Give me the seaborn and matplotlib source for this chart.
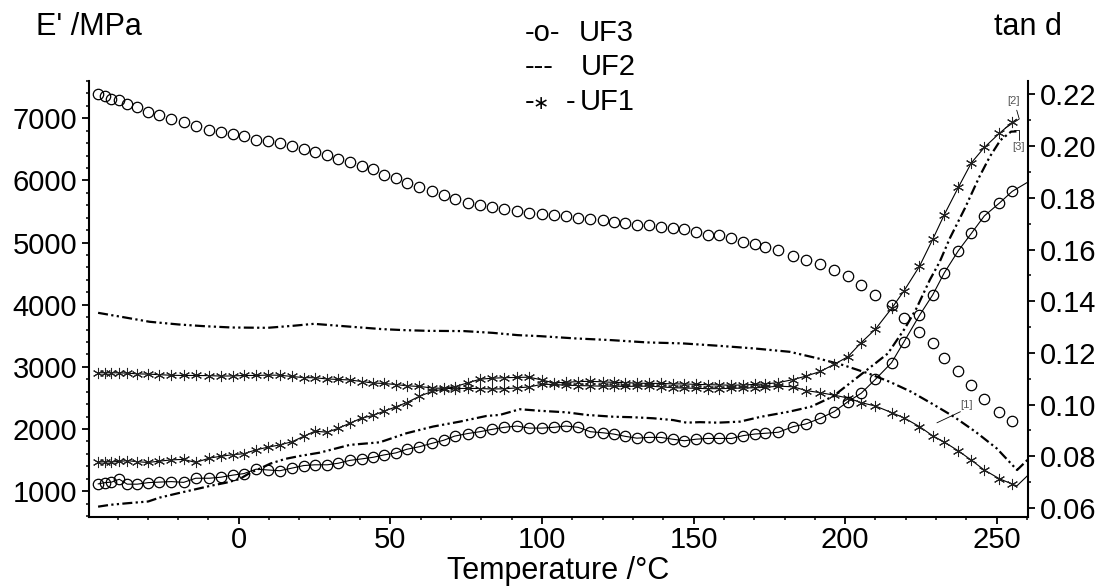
import matplotlib
matplotlib.use("Agg")
import matplotlib.pyplot as plt
from matplotlib.ticker import MultipleLocator, FormatStrFormatter
import seaborn as sns

# temperature steps of the marker series (°C)
temp = [-46.4, -44.1, -42.0, -39.4, -36.8, -33.5, -29.9, -26.2, -22.2, -18.2,
        -14.2, -9.7, -5.9, -2.0, 1.7, 5.7, 9.6, 13.5, 17.5, 21.4,
        25.1, 29.2, 32.8, 36.6, 40.6, 44.3, 47.8, 51.8, 55.4, 59.6,
        63.7, 67.6, 71.2, 75.5, 79.5, 83.5, 87.5, 91.7, 95.8, 100.0,
        103.9, 107.8, 111.9, 116.0, 120.0, 123.6, 127.5, 131.3, 135.2, 139.1,
        143.1, 147.0, 150.8, 154.6, 158.5, 162.5, 166.4, 170.2, 173.7, 178.0,
        182.9, 187.0, 191.8, 196.4, 200.9, 205.3, 210.0, 215.3, 219.4, 224.5,
        228.9, 232.7, 237.3, 241.6, 245.9, 250.9, 255.1]

# UF3 storage modulus E' (MPa)
uf3_E = [7397, 7354, 7317, 7289, 7225, 7182, 7101, 7048, 6995, 6941,
         6871, 6818, 6780, 6754, 6716, 6658, 6641, 6603, 6555, 6502,
         6459, 6405, 6352, 6297, 6233, 6180, 6095, 6040, 5960, 5896,
         5826, 5772, 5697, 5643, 5611, 5573, 5535, 5503, 5482, 5466,
         5441, 5424, 5403, 5387, 5371, 5333, 5317, 5291, 5280, 5253,
         5237, 5211, 5172, 5130, 5119, 5066, 5011, 4974, 4931, 4878,
         4781, 4717, 4648, 4556, 4460, 4310, 4160, 3990, 3780, 3564,
         3378, 3137, 2932, 2707, 2482, 2278, 2133]

# UF3 tan d
uf3_tan = [0.0693, 0.0698, 0.0700, 0.0711, 0.0692, 0.0692, 0.0698, 0.0700, 0.0702, 0.0699,
           0.0715, 0.0715, 0.0719, 0.0727, 0.0733, 0.0750, 0.0747, 0.0744, 0.0754, 0.0764,
           0.0767, 0.0767, 0.0773, 0.0784, 0.0790, 0.0796, 0.0805, 0.0813, 0.0827, 0.0837,
           0.0850, 0.0862, 0.0878, 0.0888, 0.0895, 0.0904, 0.0912, 0.0917, 0.0909, 0.0909,
           0.0912, 0.0917, 0.0912, 0.0895, 0.0891, 0.0886, 0.0877, 0.0870, 0.0873, 0.0873,
           0.0866, 0.0860, 0.0866, 0.0869, 0.0869, 0.0869, 0.0880, 0.0886, 0.0889, 0.0893,
           0.0915, 0.0925, 0.0947, 0.0973, 0.1011, 0.1044, 0.1098, 0.1162, 0.1243, 0.1345,
           0.1425, 0.1510, 0.1595, 0.1662, 0.1730, 0.1780, 0.1825]
uf3_tan_tail_t = [261.0]
uf3_tan_tail = [0.1866]

# UF1 storage modulus E' (MPa)
uf1_E = [2906, 2906, 2906, 2904, 2900, 2888, 2884, 2875, 2865, 2862,
         2862, 2860, 2852, 2855, 2862, 2862, 2868, 2866, 2846, 2828,
         2825, 2806, 2798, 2790, 2765, 2740, 2734, 2716, 2696, 2685,
         2662, 2654, 2652, 2654, 2652, 2645, 2648, 2662, 2678, 2720,
         2718, 2705, 2700, 2695, 2690, 2690, 2685, 2690, 2690, 2680,
         2665, 2660, 2655, 2650, 2650, 2655, 2660, 2665, 2672, 2690,
         2680, 2620, 2585, 2545, 2500, 2425, 2370, 2265, 2180, 2040,
         1890, 1790, 1650, 1500, 1340, 1200, 1115]
uf1_E_tail_t = [256.6, 261.0]
uf1_E_tail = [1084, 1290]

# UF1 tan d
uf1_tan = [0.0777, 0.0779, 0.0778, 0.0780, 0.0783, 0.0779, 0.0776, 0.0781, 0.0786, 0.0788,
           0.0776, 0.0793, 0.0800, 0.0806, 0.0810, 0.0825, 0.0835, 0.0844, 0.0856, 0.0877,
           0.0897, 0.0893, 0.0908, 0.0928, 0.0948, 0.0958, 0.0974, 0.0991, 0.1008, 0.1032,
           0.1051, 0.1060, 0.1069, 0.1084, 0.1098, 0.1102, 0.1104, 0.1105, 0.1106, 0.1095,
           0.1084, 0.1086, 0.1089, 0.1090, 0.1088, 0.1086, 0.1085, 0.1083, 0.1082, 0.1082,
           0.1080, 0.1080, 0.1078, 0.1077, 0.1076, 0.1075, 0.1076, 0.1078, 0.1080, 0.1085,
           0.1097, 0.1110, 0.1128, 0.1156, 0.1185, 0.1240, 0.1292, 0.1372, 0.1440, 0.1535,
           0.1640, 0.1735, 0.1840, 0.1935, 0.1995, 0.2050, 0.2092]
uf1_tan_tail_t = [256.5]
uf1_tan_tail = [0.2104]

# UF2 (line only)
uf2_E_t = [-46.4, -37.6, -29.4, -19.9, -11.7, -2.3, 9.5, 17.8, 24.8, 33.1,
           47.2, 54.3, 62.5, 74.3, 83.7, 92.0, 99.3, 111.1, 122.8, 134.6,
           146.4, 158.2, 170.0, 181.7, 191.2, 199.4, 207.7, 214.7, 221.8, 228.9,
           235.9, 243.0, 250.0, 256.7, 261.0]
uf2_E = [3870, 3796, 3726, 3683, 3656, 3634, 3629, 3661, 3693, 3661,
         3608, 3592, 3580, 3576, 3548, 3511, 3495, 3458, 3431, 3394,
         3378, 3340, 3297, 3243, 3135, 3028, 2894, 2760, 2599, 2401,
         2197, 1956, 1688, 1341, 1545]

uf2_tan_t = [-46.4, -42.5, -37.0, -29.9, -26.1, -20.0, -15.1, -9.6, -4.1, 0.3,
             3.6, 6.9, 10.5, 15.4, 20.1, 26.7, 36.6, 46.5, 55.3, 64.1,
             72.9, 81.7, 86.1, 92.7, 99.3, 108.1, 114.7, 123.5, 130.1, 136.7,
             143.3, 147.7, 152.1, 158.0, 165.3, 172.3, 181.7, 188.8, 195.9, 202.9,
             210.0, 214.1, 219.7, 223.5, 227.9, 231.2, 234.5, 239.5, 244.2, 247.7,
             251.2, 254.7, 256.5]
uf2_tan = [0.0605, 0.0612, 0.0618, 0.0625, 0.0640, 0.0657, 0.0670, 0.0685, 0.0698, 0.0712,
           0.0735, 0.0752, 0.0772, 0.0790, 0.0801, 0.0814, 0.0844, 0.0854, 0.0889, 0.0915,
           0.0934, 0.0956, 0.0960, 0.0982, 0.0976, 0.0970, 0.0960, 0.0953, 0.0951, 0.0947,
           0.0940, 0.0930, 0.0932, 0.0930, 0.0934, 0.0953, 0.0973, 0.0992, 0.1031, 0.1095,
           0.1160, 0.1198, 0.1295, 0.1372, 0.1482, 0.1553, 0.1643, 0.1760, 0.1880, 0.1959,
           0.2023, 0.2056, 0.2057]

x_ticks = [0, 50, 100, 150, 200, 250]

sns.set_style("ticks", {"axes.edgecolor": "black", "xtick.color": "black",
                        "ytick.color": "black", "text.color": "black",
                        "axes.labelcolor": "black"})
plt.rcParams["font.family"] = ["Liberation Sans", "DejaVu Sans"]

fig = plt.figure(figsize=(11.01, 5.86), dpi=100)
W, H = 1101, 586
ax = fig.add_axes([89 / W, (H - 517) / H, (1028 - 89) / W, (517 - 81) / H])
ax2 = ax.twinx()

k = "black"
dashdot = (0, (4.5, 1.5, 1, 1.5, 1, 1.5))
asterisk = (6, 2, 0)
n = len(temp)

# E' curves (left axis)
sns.lineplot(x=temp, y=uf3_E, ax=ax, color=k, linestyle="none", marker="o",
             markersize=7.5, mfc="none", mec=k, mew=0.9)
sns.lineplot(x=uf2_E_t, y=uf2_E, ax=ax, color=k, lw=1.6, linestyle=dashdot)
sns.lineplot(x=temp + uf1_E_tail_t, y=uf1_E + uf1_E_tail, ax=ax, color=k, lw=0.8,
             marker=asterisk, markersize=8, mec="#222222", mew=0.75,
             markevery=slice(0, n))

# tan d curves (right axis)
sns.lineplot(x=temp + uf3_tan_tail_t, y=uf3_tan + uf3_tan_tail, ax=ax2, color=k, lw=0.8,
             marker="o", markersize=7.5, mfc="none", mec=k, mew=0.9,
             markevery=slice(0, n))
sns.lineplot(x=uf2_tan_t, y=uf2_tan, ax=ax2, color=k, lw=1.6, linestyle=dashdot)
sns.lineplot(x=temp + uf1_tan_tail_t, y=uf1_tan + uf1_tan_tail, ax=ax2, color=k, lw=0.8,
             marker=asterisk, markersize=8, mec="#222222", mew=0.75,
             markevery=slice(0, n))

ax.set_xlim(-49.4, 260.3)
ax.set_ylim(585, 7600)
ax2.set_ylim(0.0565, 0.2252)

ax.set_xticks(x_ticks)
ax.xaxis.set_minor_locator(MultipleLocator(10))
ax.yaxis.set_major_locator(MultipleLocator(1000))
ax.yaxis.set_minor_locator(MultipleLocator(200))
ax.yaxis.set_major_formatter(FormatStrFormatter("%d"))
ax2.yaxis.set_major_locator(MultipleLocator(0.02))
ax2.yaxis.set_minor_locator(MultipleLocator(0.01))
ax2.yaxis.set_major_formatter(FormatStrFormatter("%.2f"))

for a in (ax, ax2):
    a.set_xlabel("")
    a.set_ylabel("")
    a.spines["top"].set_visible(False)
    for s in a.spines.values():
        s.set_linewidth(1.5)
    a.tick_params(which="major", length=5, width=1.3, labelsize=21)
    a.tick_params(which="minor", length=2.5, width=1.1)
ax.spines["right"].set_visible(False)
ax2.spines["left"].set_visible(False)
ax2.spines["bottom"].set_visible(False)
ax.tick_params(axis="y", pad=3.5)
ax.tick_params(axis="x", pad=1.5)
ax2.tick_params(axis="y", pad=3.5)

# axis titles
fs = 22
fig.text(89 / W, 1 - 27 / H, "E' /MPa", ha="center", va="center", fontsize=fs)
fig.text(1028 / W, 1 - 27 / H, "tan d", ha="center", va="center", fontsize=fs)
fig.text(558 / W, 1 - 571 / H, "Temperature /°C", ha="center", va="center", fontsize=fs)

# text legend
ls = 21
lx, nx = 525 / W, 579 / W
fig.text(lx, 1 - 33 / H, "-o-", ha="left", va="center", fontsize=ls)
fig.text(nx, 1 - 33 / H, "UF3", ha="left", va="center", fontsize=ls)
fig.text(lx, 1 - 67 / H, "---", ha="left", va="center", fontsize=ls)
fig.text(nx + 2 / W, 1 - 67 / H, "UF2", ha="left", va="center", fontsize=ls)
fig.text(lx, 1 - 102 / H, "-", ha="left", va="center", fontsize=ls)
fig.text(533 / W, 1 - 103 / H, "\u2217", ha="left", va="center", fontsize=14,
         family=["DejaVu Sans"])
fig.text(566 / W, 1 - 102 / H, "-", ha="left", va="center", fontsize=ls)
fig.text(nx + 1 / W, 1 - 102 / H, "UF1", ha="left", va="center", fontsize=ls)

# small callout labels
tc = "#555555"
ax.text(0.934, 0.257, "[1]", transform=ax.transAxes, fontsize=8, color=tc,
        ha="center", va="center")
ax.plot([0.903, 0.928], [0.216, 0.2415], transform=ax.transAxes, color=k, lw=0.6,
        clip_on=False)
ax.text(0.9845, 0.954, "[2]", transform=ax.transAxes, fontsize=8, color=tc,
        ha="center", va="center")
ax.plot([0.988, 0.9907, 0.9755], [0.933, 0.9128, 0.8915], transform=ax.transAxes,
        color=k, lw=0.6, clip_on=False)
ax.text(0.9897, 0.8486, "[3]", transform=ax.transAxes, fontsize=8, color=tc,
        ha="center", va="center")
ax.plot([0.985, 0.9904, 0.9904], [0.8876, 0.8876, 0.8647], transform=ax.transAxes,
        color=k, lw=0.6, clip_on=False)

fig.savefig("out.png", dpi=100)
